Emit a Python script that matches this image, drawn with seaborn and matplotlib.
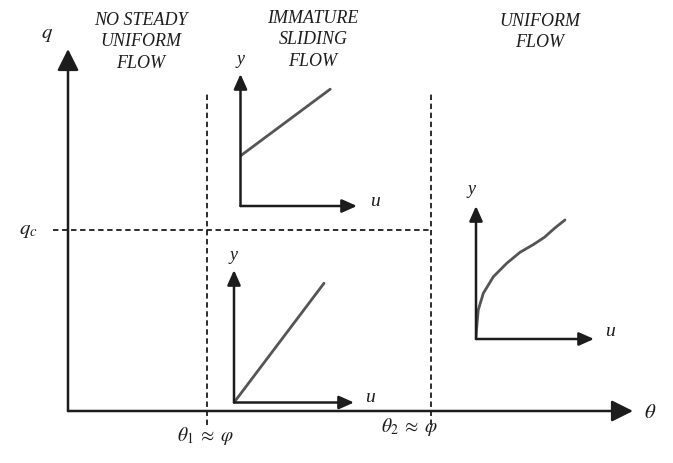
import numpy as np
import pandas as pd
import matplotlib.pyplot as plt
import seaborn as sns

# regime map: thresholds on the theta / q plane (axes fraction units)
theta_limits = [0.246, 0.642]
theta_labels = [r"$\theta_1\;\approx\;\varphi$", r"$\theta_2\;\approx\;\varphi$"]
q_c = 0.50

region_titles = ["NO STEADY\nUNIFORM\nFLOW", "IMMATURE\nSLIDING\nFLOW", "UNIFORM\nFLOW"]

# velocity profiles (normalised u, y)
plug_u = [0.0, 0.77]
plug_y = [0.38, 0.885]
linear_u = [0.0, 0.75]
linear_y = [0.0, 0.90]
curve_u = [0.0, 0.004, 0.019, 0.062, 0.147, 0.26, 0.373, 0.486, 0.58, 0.669, 0.754]
curve_y = [0.015, 0.068, 0.218, 0.344, 0.468, 0.569, 0.652, 0.71, 0.765, 0.835, 0.895]

W, H = 673, 463

sns.set_theme(style="white")
plt.rcParams["font.family"] = ["Liberation Serif", "DejaVu Serif"]
plt.rcParams["mathtext.fontset"] = "stix"

fig = plt.figure(figsize=(W / 100, H / 100), dpi=100)
fig.patch.set_facecolor("white")


def rect(x0, y0, x1, y1):
    return [x0 / W, (H - y0) / H, (x1 - x0) / W, (y0 - y1) / H]


def ftext(x, y, s, **kw):
    fig.text(x / W, 1 - y / H, s, ha="center", va="center", **kw)


def arrow(ax, start, end, hl, hw, lw, color):
    ax.annotate("", xy=end, xytext=start, xycoords="axes fraction",
                textcoords="axes fraction",
                arrowprops=dict(arrowstyle=f"-|>,head_length={hl},head_width={hw}",
                                mutation_scale=1, lw=lw, color=color,
                                shrinkA=0, shrinkB=0))


dark = "#1c1c1c"
gray = "#555555"

# main theta-q axes
ax = fig.add_axes(rect(68, 411, 633, 49))
ax.set_xlim(0, 1)
ax.set_ylim(0, 1)
ax.axis("off")
arrow(ax, (0, 0), (1, 0), 13, 6.5, 1.8, dark)
arrow(ax, (0, 0), (0, 1), 13, 6.5, 1.8, dark)
for t in theta_limits:
    ax.plot([t, t], [-0.04, 0.878], color=dark, lw=1.3, dashes=(3, 2), clip_on=False)
ax.plot([-0.027, theta_limits[1]], [q_c, q_c], color=dark, lw=1.3, dashes=(3, 2),
        clip_on=False)

# velocity profile insets
insets = [
    (rect(240.5, 206, 357, 74), plug_u, plug_y, (240.5, 59), (375, 202)),
    (rect(234, 402.5, 354, 270), linear_u, linear_y, (234, 255), (370, 397)),
    (rect(476, 339, 594, 206), curve_u, curve_y, (472, 190), (610, 332)),
]
for r, u, y, ylab, ulab in insets:
    iax = fig.add_axes(r)
    iax.set_xlim(0, 1)
    iax.set_ylim(0, 1)
    iax.axis("off")
    iax.patch.set_alpha(0)
    sns.lineplot(x=u, y=y, ax=iax, color=gray, lw=2.0, sort=False, estimator=None)
    arrow(iax, (0, 0), (1, 0), 9, 4, 1.8, dark)
    arrow(iax, (0, 0), (0, 1), 9, 4, 1.8, dark)
    ftext(*ylab, "y", fontsize=13, style="italic", color=dark)
    ftext(*ulab, "u", fontsize=14, style="italic", color=dark)

# region titles
ftext(141, 42, region_titles[0], fontsize=13, style="italic", linespacing=1.35, color=dark)
ftext(313, 40, region_titles[1], fontsize=13, style="italic", linespacing=1.35, color=dark)
ftext(540, 32, region_titles[2], fontsize=13, style="italic", linespacing=1.35, color=dark)

# axis labels
ftext(47, 35, r"$q$", fontsize=15, color=dark)
ftext(650, 413, r"$\theta$", fontsize=15, color=dark)
ftext(28, 231, r"$q_c$", fontsize=15, color=dark)
ftext(206, 436, theta_labels[0], fontsize=14, color=dark)
ftext(410, 427, theta_labels[1], fontsize=14, color=dark)

fig.savefig("out.png", dpi=100)
